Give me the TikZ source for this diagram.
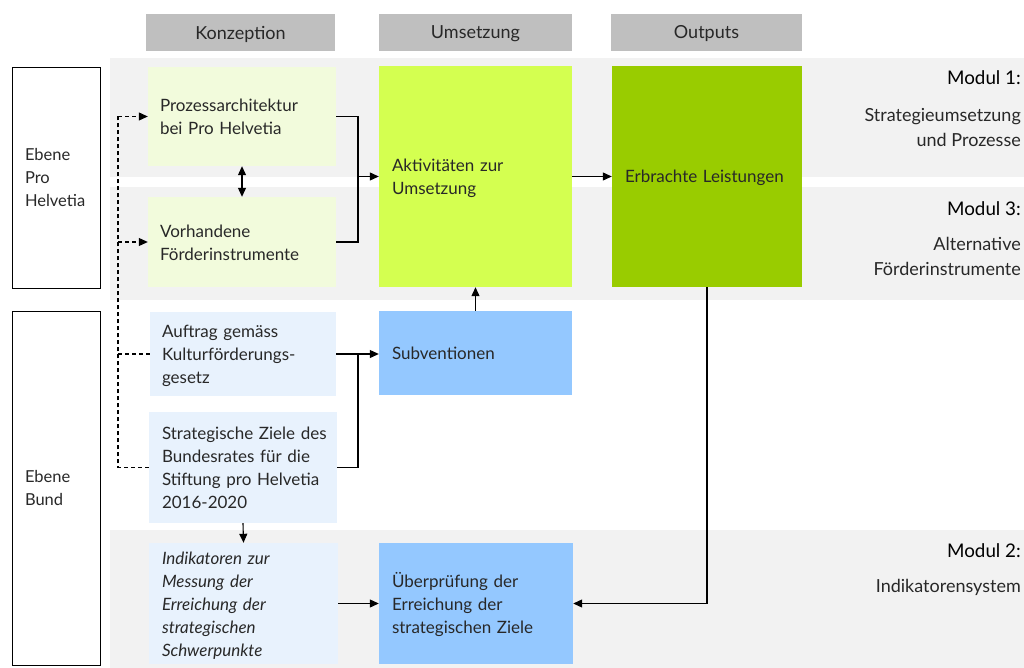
\documentclass[tikz,border=0pt]{standalone}
\usepackage{fontspec}
\setmainfont{Lato}
\usetikzlibrary{arrows.meta}
\definecolor{hdr}{RGB}{191,191,191}
\definecolor{band}{RGB}{242,242,242}
\definecolor{lgreen}{RGB}{242,251,220}
\definecolor{lblue}{RGB}{232,242,253}
\definecolor{akt}{RGB}{212,255,80}
\definecolor{mblue}{RGB}{148,200,255}
\definecolor{dgreen}{RGB}{153,204,0}
\definecolor{txt}{RGB}{40,40,40}
\tikzset{
  box/.style={inner xsep=12pt, inner ysep=0pt, align=left, text=txt,
    font=\fontsize{17}{23}\selectfont,
    execute at begin node={\rule{0pt}{18pt}},
    execute at end node={\rule[-5pt]{0pt}{5pt}}},
  hfill/.style={fill=hdr, inner sep=0pt, minimum height=37pt},
  htext/.style={inner sep=0pt, text=txt, font=\fontsize{18}{23}\selectfont},
  ebox/.style={draw=black, line width=0.9pt, fill=white, inner xsep=13pt, inner ysep=0pt,
    align=left, text=txt, font=\fontsize{16.5}{23}\selectfont},
  conn/.style={line width=1.1pt, draw=black},
  arr/.style={conn, -{Triangle[length=9pt,width=8pt]}},
  darr/.style={conn, {Triangle[length=9pt,width=8pt]}-{Triangle[length=9pt,width=8pt]}},
  dashline/.style={line width=1.1pt, dash pattern=on 4pt off 3pt},
  modtitle/.style={anchor=east, inner sep=0pt, text=black, font=\fontsize{18.8}{23}\selectfont},
  modtext/.style={anchor=east, inner sep=0pt, align=right, text=txt, font=\fontsize{18}{25}\selectfont},
}
\begin{document}
\begin{tikzpicture}[x=1pt,y=-1pt]
\useasboundingbox (0,0) rectangle (1024,668);
% bands
\fill[band] (110,58) rectangle (1024,177);
\fill[band] (110,187) rectangle (1024,300);
\fill[band] (110,530) rectangle (1024,668);
% headers
\node[hfill, minimum width=189pt] (hk) at (240.5,32.5) {};
\node[hfill, minimum width=193pt] (hu) at (475.5,32.5) {};
\node[hfill, minimum width=191pt] (ho) at (706.5,32.5) {};
\node[htext] (hkt) at (240.5,34) {Konzeption};
\node[htext] (hut) at (475.5,34) {Umsetzung};
\node[htext] (hot) at (706.5,34) {Outputs};
% level boxes
\node[ebox, text width=62pt, minimum height=221pt] (eph) at (56,177.5) {Ebene\\Pro\\Helvetia};
\node[ebox, text width=62pt, minimum height=354pt] (ebund) at (56,488) {Ebene\\Bund};
% concept boxes
\node[box, fill=lgreen, text width=164pt, minimum height=99pt] (p) at (242,116.5) {Prozessarchitektur\\bei Pro Helvetia};
\node[box, fill=lgreen, text width=164pt, minimum height=90pt] (v) at (242,242) {Vorhandene\\Förderinstrumente};
\node[box, fill=lblue, text width=162pt, minimum height=84pt] (a) at (243,354) {Auftrag gemäss\\Kulturförderungs-\\gesetz};
\node[box, fill=lblue, inner xsep=13pt, text width=162pt, minimum height=111pt] (s) at (243,467.5) {\mbox{Strategische Ziele des}\\Bundesrates für die\\Stiftung pro Helvetia\\2016-2020};
\node[box, fill=lblue, inner xsep=13pt, text width=163pt, minimum height=121pt, font=\fontsize{17}{23}\selectfont\itshape] (i) at (243.5,603.5) {Indikatoren zur\\Messung der\\Erreichung der\\strategischen\\Schwerpunkte};
% implementation boxes
\node[box, fill=akt, inner xsep=13pt, text width=167pt, minimum height=221pt] (akt) at (475.5,176.5) {Aktivitäten zur\\Umsetzung};
\node[box, fill=mblue, inner xsep=13pt, text width=167pt, minimum height=84pt] (sub) at (475.5,353) {Subventionen};
\node[box, fill=mblue, inner xsep=13pt, text width=168pt, minimum height=121pt] (ueb) at (476,603.5) {Überprüfung der\\Erreichung der\\strategischen Ziele};
% output
\node[box, fill=dgreen, inner xsep=13pt, text width=164pt, minimum height=221pt] (erb) at (707,176.5) {Erbrachte Leistungen};
% module labels
\node[modtitle] (m1) at (1021,78) {Modul 1:};
\node[modtext] (m1t) at (1021,128) {Strategieumsetzung\\und Prozesse};
\node[modtitle] (m3) at (1021,209) {Modul 3:};
\node[modtext] (m3t) at (1021,256) {Alternative\\Förderinstrumente};
\node[modtitle] (m2) at (1021,551) {Modul 2:};
\node[modtext] (m2t) at (1021,587) {Indikatorensystem};
% connectors
\coordinate (j1) at (358,176.5);
\draw[conn] (p.east) -| (j1);
\draw[conn] (v.east) -| (j1);
\draw[arr] (j1) -- (akt.west);
\draw[darr] (p.south) -- (v.north);
\coordinate (dtop) at (118,116.5);
\coordinate (dbot) at (118,467.5);
\draw[dashline] (s.west) -- (dbot) -- (dtop);
\draw[dashline, -{Triangle[length=9pt,width=8pt]}] (dtop) -- (p.west);
\draw[dashline, -{Triangle[length=9pt,width=8pt]}] (dtop |- v.west) -- (v.west);
\draw[dashline] (dtop |- a.west) -- (a.west);
\coordinate (j2) at (358,354);
\draw[arr] (a.east) -- (a.east -| sub.west);
\draw[conn] (s.east) -| (j2);
\draw[arr] (sub.north) -- (akt.south);
\draw[arr] (akt.east) -- (erb.west);
\draw[arr] (erb.south) |- (ueb.east);
\draw[arr] (s.south) -- (i.north);
\draw[arr] (i.east) -- (ueb.west);
\end{tikzpicture}
\end{document}
